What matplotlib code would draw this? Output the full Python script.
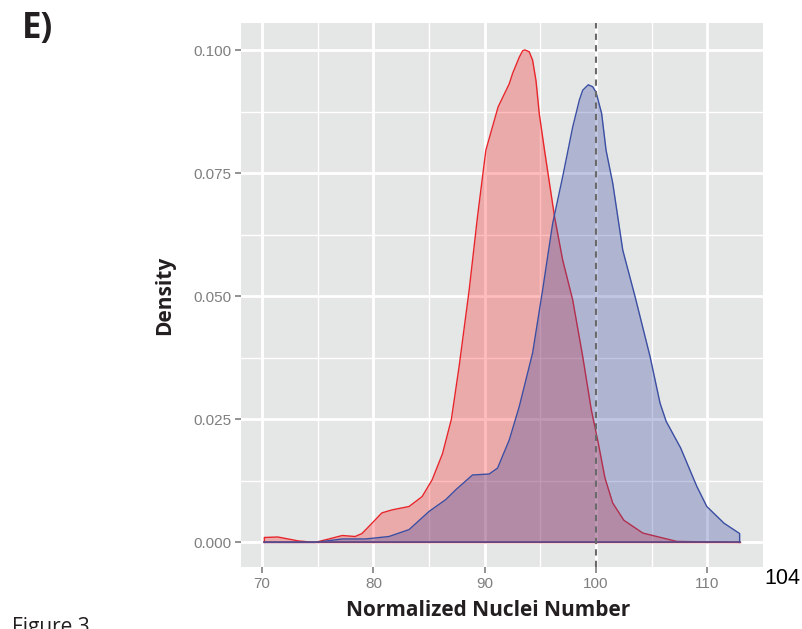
import matplotlib
matplotlib.use("Agg")
import matplotlib.pyplot as plt
import numpy as np

# ---- data ----
red_x = [70.2, 71.4, 73.25, 74.75, 76.0, 77.2, 78.35, 78.97, 79.87, 80.76, 81.66, 83.2,
         84.37, 85.27, 86.2, 87.0, 87.7, 88.6, 89.35, 90.1, 91.2, 92.2, 92.5, 93.1, 93.4,
         93.6, 94.0, 94.3, 94.6, 94.9, 95.37, 96.27, 97.0, 97.9, 98.8, 99.57, 100.2, 100.8,
         101.5, 102.5, 104.2, 107.25, 112.9]
red_y = [0.0010, 0.0011, 0.0003, 0.0, 0.0007, 0.0014, 0.0012, 0.0018, 0.0039, 0.0060,
         0.0066, 0.0073, 0.0093, 0.0127, 0.0180, 0.0250, 0.0358, 0.0513, 0.0662, 0.0797,
         0.0885, 0.0932, 0.0953, 0.0986, 0.0999, 0.1001, 0.0997, 0.0980, 0.0939, 0.0871,
         0.0797, 0.0662, 0.0574, 0.0493, 0.0378, 0.0270, 0.0202, 0.0131, 0.0080, 0.0045,
         0.0019, 0.0002, 0.0]

blue_x = [70.2, 74.75, 77.2, 79.3, 81.4, 83.2, 85.0, 86.5, 87.4, 88.9, 90.4, 91.15, 92.2,
          93.1, 94.3, 95.2, 96.1, 97.0, 97.9, 98.5, 98.8, 99.3, 99.7, 100.0, 100.5, 100.9,
          101.5, 102.4, 103.5, 104.85, 105.75, 106.3, 107.6, 109.05, 109.95, 111.5, 112.9]
blue_y = [0.0, 0.0, 0.0007, 0.0007, 0.0012, 0.0026, 0.0063, 0.0087, 0.0107, 0.0137,
          0.0139, 0.0151, 0.0208, 0.0276, 0.0385, 0.0513, 0.0648, 0.0743, 0.0844, 0.0899,
          0.0919, 0.0930, 0.0926, 0.0915, 0.0872, 0.0797, 0.0730, 0.0594, 0.0500, 0.0378,
          0.0283, 0.0246, 0.0192, 0.0114, 0.0073, 0.0039, 0.0018]

ref_line = 100
x_ticks = [70, 80, 90, 100, 110]
y_ticks = [0.0, 0.025, 0.05, 0.075, 0.1]
y_tick_labels = ["0.000", "0.025", "0.050", "0.075", "0.100"]

# ---- figure ----
W, H = 803, 629
fig = plt.figure(figsize=(W / 100, H / 100), dpi=100)
fig.patch.set_facecolor("white")

left, right, top, bottom = 241, 763, 23.3, 567
ax = fig.add_axes([left / W, 1 - bottom / H, (right - left) / W, (bottom - top) / H])
ax.set_facecolor("#e5e6e6")
ax.set_xlim(68.1, 115.0)
ax.set_ylim(-0.005, 0.1055)

# grid
for v in np.arange(75, 115, 10):
    ax.axvline(v, color="white", lw=1.0, zorder=0.5)
for v in x_ticks:
    ax.axvline(v, color="white", lw=2.0, zorder=0.6)
for v in np.arange(0.0125, 0.1, 0.025):
    ax.axhline(v, color="white", lw=1.0, zorder=0.5)
for v in y_ticks:
    ax.axhline(v, color="white", lw=2.0, zorder=0.6)

# densities: red first, blue on top
rx = np.array(red_x); ry = np.array(red_y)
bx = np.array(blue_x); by = np.array(blue_y)
ax.fill_between(rx, 0, ry, color=(1.0, 0.0, 0.0), alpha=0.26, lw=0, zorder=2)
ax.plot(np.r_[rx[0], rx, rx[-1]], np.r_[0, ry, 0], color="#e8252b", lw=1.0, zorder=3,
        solid_joinstyle="round")
ax.plot([rx[0], rx[-1]], [0, 0], color="#e8252b", lw=1.0, zorder=3)
ax.fill_between(bx, 0, by, color=(50 / 255, 70 / 255, 160 / 255), alpha=0.3, lw=0, zorder=4)
ax.plot(np.r_[bx[0], bx, bx[-1]], np.r_[0, by, 0], color="#3a4ea3", lw=1.0, zorder=5,
        solid_joinstyle="round")
ax.plot([bx[0], bx[-1]], [0, 0], color="#5a4a8a", lw=1.2, zorder=5)

ax.axvline(ref_line, color="#6a6a6a", lw=1.5, ls=(0, (3, 2.5)), zorder=6)

for s in ax.spines.values():
    s.set_visible(False)

ax.set_xticks(x_ticks)
ax.set_xticklabels([str(v) for v in x_ticks])
ax.set_yticks(y_ticks)
ax.set_yticklabels(y_tick_labels)
ax.tick_params(axis="both", colors="#7f7f7f", labelcolor="#7f7f7f", length=4, width=1.2,
               labelsize=11, pad=3)
for lab in ax.get_xticklabels() + ax.get_yticklabels():
    lab.set_family("Liberation Sans")

# axis titles placed as in the reference
fig.text(488 / W, 1 - 611 / H, "Normalized Nuclei Number", fontsize=15, fontweight="bold",
         family="Open Sans", color="#231f20", ha="center", va="center")
fig.text(165 / W, 1 - 295 / H, "Density", fontsize=15, fontweight="bold",
         family="Open Sans", color="#231f20", ha="center", va="center", rotation=90)

fig.text(22 / W, 1 - 29 / H, "E)", fontsize=25, fontweight="bold", family="Open Sans",
         color="#231f20", va="center", ha="left")
fig.text(782 / W, 1 - 578 / H, "104", fontsize=15.5, family="Liberation Sans",
         color="black", va="center", ha="center")
fig.text(12 / W, 1 - 617 / H, "Figure 3", fontsize=15, family="Open Sans",
         color="#231f20", va="top", ha="left")

fig.savefig("out.png", dpi=100)
